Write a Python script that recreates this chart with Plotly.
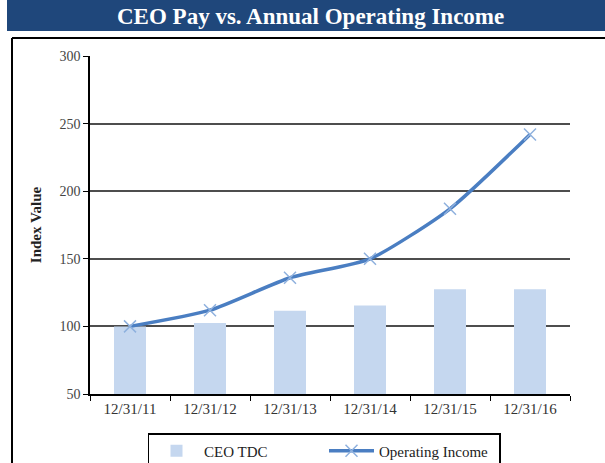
import plotly.graph_objects as go

categories = ["12/31/11", "12/31/12", "12/31/13", "12/31/14", "12/31/15", "12/31/16"]
ceo_tdc = [100, 102.5, 111.5, 115.5, 127.5, 127.5]
operating_income = [100, 112, 136, 150, 187, 242]

# pixel -> paper helpers (plot area: x 90..570, y 56..394)
L, R, T, B = 90, 570, 56, 394
W, H = 605, 463
def px(x):
    return (x - L) / (R - L)
def py(y):
    return (B - y) / (B - T)

serif = "Liberation Serif, Times New Roman, serif"

fig = go.Figure()
fig.add_trace(go.Bar(
    x=categories, y=ceo_tdc, name="CEO TDC",
    marker=dict(color="#C5D7EF", line=dict(width=0)),
    width=0.4,
))
fig.add_trace(go.Scatter(
    x=categories, y=operating_income, name="Operating Income",
    mode="lines+markers",
    line=dict(color="#4A7EC2", width=3.5, shape="spline", smoothing=0.6),
    marker=dict(symbol="x-thin", size=12, line=dict(color="#8FB1DE", width=1.5), color="#8FB1DE"),
))

fig.update_layout(
    width=W, height=H,
    margin=dict(l=L, r=W - R, t=T, b=H - B, autoexpand=False),
    paper_bgcolor="white", plot_bgcolor="white",
    font=dict(family=serif, size=12, color="#333333"),
    showlegend=True,
    legend=dict(
        orientation="h", x=px(324), xanchor="center", y=py(433), yanchor="top",
        bordercolor="black", borderwidth=1.5, font=dict(family=serif, size=15, color="#222222"),
        entrywidth=115, itemwidth=45,
    ),
    bargap=0.6,
)
fig.update_yaxes(
    range=[50, 300], dtick=50, showgrid=True, gridcolor="#4d4d4d", gridwidth=1.5,
    showline=True, linecolor="black", linewidth=1.5,
    ticks="outside", ticklen=5, tickcolor="black",
    tickfont=dict(family=serif, size=14, color="#444444"),
    title=dict(text="<b>Index Value</b>", font=dict(family=serif, size=15, color="#222222"), standoff=14),
    zeroline=False,
)
fig.update_xaxes(
    showline=True, linecolor="black", linewidth=1.5,
    ticks="outside", ticklen=5, tickcolor="black", tickson="boundaries",
    tickfont=dict(family=serif, size=15, color="#333333"),
    showgrid=False,
)

# banner
fig.add_shape(type="rect", xref="paper", yref="paper",
              x0=px(7), x1=px(605), y0=py(31), y1=py(0),
              fillcolor="#1F477B", line=dict(width=0), layer="below")
fig.add_annotation(text="<b>CEO Pay vs. Annual Operating Income</b>", xref="paper", yref="paper",
                   x=px(310), y=py(16), xanchor="center", yanchor="middle", showarrow=False,
                   font=dict(family=serif, size=23, color="white"))
# frame lines
fig.add_shape(type="line", xref="paper", yref="paper",
              x0=px(12), x1=px(605), y0=py(38), y1=py(38), line=dict(color="black", width=2))
fig.add_shape(type="line", xref="paper", yref="paper",
              x0=px(12), x1=px(12), y0=py(38), y1=py(463), line=dict(color="black", width=2))

fig.write_html("out.html", config={"displayModeBar": False},
               post_script="document.body.style.margin='0';document.body.style.overflow='hidden';")
